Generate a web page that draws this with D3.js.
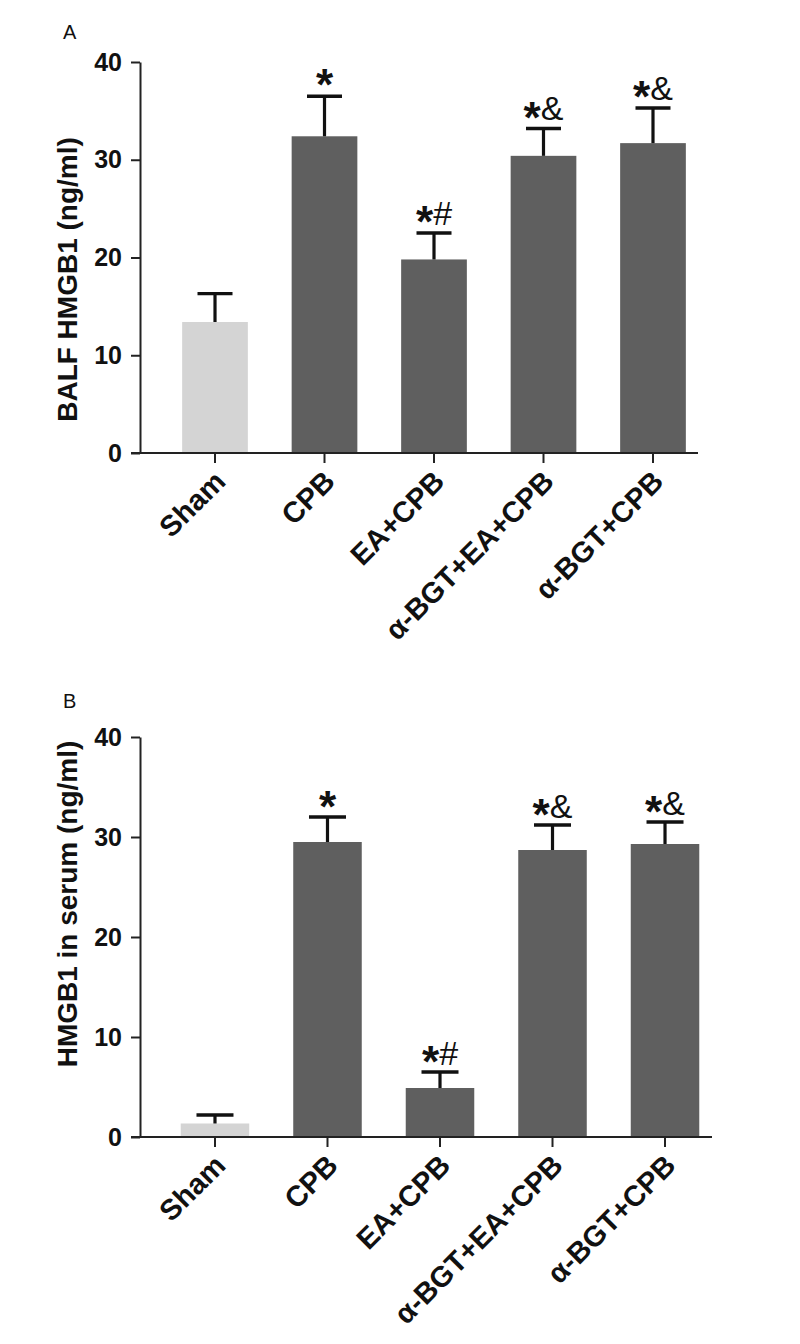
<!DOCTYPE html>
<html><head><meta charset="utf-8">
<script src="https://cdn.jsdelivr.net/npm/d3@7"></script>
<style>body{margin:0;background:#fff}</style>
</head><body><svg id="c" width="800" height="1344"></svg>
<script>
const categories = ["Sham","CPB","EA+CPB","α-BGT+EA+CPB","α-BGT+CPB"];
const balfMean = [13.4, 32.4, 19.8, 30.4, 31.7];
const balfSem  = [2.9, 4.1, 2.7, 2.8, 3.6];
const balfMarks = ["", "*", "*#", "*&", "*&"];
const serumMean = [1.35, 29.5, 4.9, 28.7, 29.3];
const serumSem  = [0.85, 2.5, 1.6, 2.5, 2.2];
const serumMarks = ["", "*", "*#", "*&", "*&"];
const yTicks = [0, 10, 20, 30, 40];

const svg = d3.select("#c");
const FONT = "'Liberation Sans', Arial, sans-serif";

function panel(o) {
  const g = svg.append("g");
  const y = d3.scaleLinear().domain([0, 40]).range([o.bottom, o.top]);
  const x = d3.scaleBand().domain(categories).range([o.axisX, o.rangeEnd])
      .paddingInner(o.pi).paddingOuter(o.po);
  const data = categories.map((c, i) => ({c, m: o.mean[i], s: o.sem[i], mark: o.marks[i], i}));

  // bars
  g.selectAll("rect.bar").data(data).join("rect")
    .attr("x", d => x(d.c)).attr("width", x.bandwidth())
    .attr("y", d => y(d.m)).attr("height", d => y(0) - y(d.m))
    .attr("fill", d => d.i === 0 ? "#d4d4d4" : "#5f5f5f");

  // error bars
  const cw = o.capW;
  g.selectAll("line.ev").data(data).join("line")
    .attr("x1", d => x(d.c) + x.bandwidth()/2).attr("x2", d => x(d.c) + x.bandwidth()/2)
    .attr("y1", d => y(d.m)).attr("y2", d => y(d.m + d.s))
    .attr("stroke", "#111").attr("stroke-width", 3.2);
  g.selectAll("line.ec").data(data).join("line")
    .attr("x1", d => x(d.c) + x.bandwidth()/2 - cw/2).attr("x2", d => x(d.c) + x.bandwidth()/2 + cw/2)
    .attr("y1", d => y(d.m + d.s)).attr("y2", d => y(d.m + d.s))
    .attr("stroke", "#111").attr("stroke-width", 3.4);

  // significance marks
  const t = g.selectAll("text.mk").data(data.filter(d => d.mark)).join("text")
    .attr("x", d => x(d.c) + x.bandwidth()/2)
    .attr("y", d => y(d.m + d.s) - o.markGap)
    .attr("text-anchor", "middle")
    .attr("font-family", FONT).attr("font-size", o.markSize).attr("fill", "#111");
  t.append("tspan").attr("font-size", o.markSize * 1.3).attr("font-weight", "bold").attr("dy", o.markSize*0.36).text("*");
  t.append("tspan").attr("dy", -o.markSize*0.36).text(d => d.mark.slice(1));

  // y axis
  const ya = d3.axisLeft(y).tickValues(yTicks).tickSize(9).tickPadding(9).tickSizeOuter(0);
  const yg = g.append("g").attr("transform", `translate(${o.axisX},0)`).call(ya);
  yg.select(".domain").attr("stroke", "#222").attr("stroke-width", 2);
  yg.selectAll(".tick line").attr("stroke", "#222").attr("stroke-width", 2);
  yg.selectAll(".tick text").attr("font-family", FONT).attr("font-size", 25)
    .attr("font-weight", "bold").attr("fill", "#111");

  // x axis
  const xa = d3.axisBottom(x).tickSize(10).tickSizeOuter(0).tickFormat("");
  const xg = g.append("g").attr("transform", `translate(0,${o.bottom})`).call(xa);
  xg.select(".domain").attr("d", `M${o.axisX - 9},0H${o.xEnd}`).attr("stroke", "#222").attr("stroke-width", 2);
  xg.selectAll(".tick line").attr("stroke", "#222").attr("stroke-width", 2);

  // category labels
  g.selectAll("text.cat").data(categories).join("text")
    .attr("transform", d => `translate(${x(d) + x.bandwidth()/2 + 5},${o.bottom + 23}) rotate(-45)`)
    .attr("text-anchor", "end").attr("dy", "0.35em")
    .attr("font-family", FONT).attr("font-size", 29).attr("font-weight", "bold").attr("fill", "#111")
    .text(d => d);

  // y title
  g.append("text")
    .attr("transform", `translate(${o.titleX},${(o.top + o.bottom)/2 + o.titleShift}) rotate(-90)`)
    .attr("text-anchor", "middle")
    .attr("font-family", FONT).attr("font-size", 28).attr("font-weight", "bold").attr("fill", "#111")
    .text(o.title);

  // panel letter
  g.append("text").attr("x", 63).attr("y", o.letterY)
    .attr("font-family", FONT).attr("font-size", 20).attr("fill", "#111").text(o.letter);
}

panel({top: 62, bottom: 453, axisX: 140, rangeEnd: 728, pi: 0.4, po: 0.385, xEnd: 698,
  mean: balfMean, sem: balfSem, marks: balfMarks, capW: 35, markSize: 34, markGap: 8,
  title: "BALF HMGB1 (ng/ml)", titleX: 77, titleShift: 22, letter: "A", letterY: 39});
panel({top: 737, bottom: 1137, axisX: 140, rangeEnd: 740, pi: 0.391, po: 0.362, xEnd: 712,
  mean: serumMean, sem: serumSem, marks: serumMarks, capW: 37, markSize: 34, markGap: 7,
  title: "HMGB1 in serum (ng/ml)", titleX: 77, titleShift: -33, letter: "B", letterY: 708});
</script></body></html>
